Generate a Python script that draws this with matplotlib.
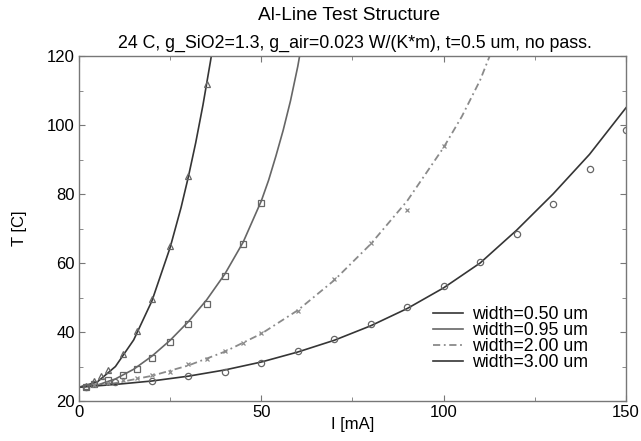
import matplotlib
matplotlib.use("Agg")
import matplotlib.pyplot as plt
from matplotlib.ticker import MultipleLocator

plt.rcParams['font.family'] = ['Liberation Sans', 'DejaVu Sans']

# ---------------- data ----------------
labels = ['width=0.50 um', 'width=0.95 um', 'width=2.00 um', 'width=3.00 um']

# measured points
i_050 = [2, 4, 6, 8, 12, 16, 20, 25, 30, 35]
t_050 = [24.4, 25.9, 27.3, 29.0, 33.6, 40.3, 49.7, 64.9, 85.3, 111.8]

i_095 = [2, 4, 8, 12, 16, 20, 25, 30, 35, 40, 45, 50]
t_095 = [24.0, 25.0, 26.2, 27.6, 29.4, 32.6, 37.1, 42.3, 48.0, 56.2, 65.6, 77.4]

i_200 = [4, 8, 12, 16, 20, 25, 30, 35, 40, 45, 50, 60, 70, 80, 90, 100]
t_200 = [24.6, 25.3, 26.0, 26.6, 27.4, 28.5, 30.7, 32.1, 34.5, 36.8, 39.8, 46.0, 55.4, 65.9, 75.5, 93.8]

i_300 = [2, 10, 20, 30, 40, 50, 60, 70, 80, 90, 100, 110, 120, 130, 140, 150]
t_300 = [24.2, 25.4, 25.9, 27.3, 28.5, 31.0, 34.5, 37.9, 42.3, 47.3, 53.3, 60.3, 68.3, 77.1, 87.2, 98.6]

# model curves
fi_050 = [0, 5, 10, 15, 20, 25, 28, 30, 32, 34, 36, 36.5]
ft_050 = [24.0, 25.5, 30.0, 37.7, 49.0, 64.5, 76.1, 85.0, 94.8, 105.8, 118.1, 121.3]

fi_095 = [0, 5, 10, 15, 20, 25, 30, 35, 40, 45, 50, 52, 54, 56, 58, 60, 61]
ft_095 = [24.0, 24.6, 26.4, 29.2, 33.0, 37.6, 43.0, 49.3, 56.8, 66.0, 78.0, 84.0, 91.0, 98.5, 107.0, 117.0, 123.0]

fi_200 = [0, 10, 20, 30, 40, 50, 60, 70, 80, 90, 100, 105, 110, 113]
ft_200 = [24.0, 25.2, 27.3, 30.3, 34.3, 39.5, 46.3, 55.0, 65.5, 78.0, 93.5, 102.5, 113.0, 121.0]

fi_300 = [0, 10, 20, 30, 40, 50, 60, 70, 80, 90, 100, 110, 120, 130, 140, 150]
ft_300 = [24.0, 24.8, 25.8, 27.2, 29.0, 31.3, 34.2, 37.6, 41.8, 46.8, 52.8, 60.0, 69.5, 80.0, 91.5, 105.0]

# --------------------------------------------------------
fig = plt.figure(figsize=(6.41, 4.41), dpi=100)
ax = fig.add_axes([0.1232, 0.0907, 0.8534, 0.7823])

c_dark = '#353535'
c_mid = '#666666'
c_light = '#8a8a8a'

ax.plot(fi_050, ft_050, color=c_dark, lw=1.2, label=labels[0])
ax.plot(fi_095, ft_095, color=c_mid, lw=1.2, label=labels[1])
ax.plot(fi_200, ft_200, color=c_light, lw=1.3, ls=(0, (4, 2, 1, 2)), label=labels[2])
ax.plot(fi_300, ft_300, color=c_dark, lw=1.2, label=labels[3])

ax.plot(i_050, t_050, ls='none', marker='^', ms=4, mfc='none', mec=c_mid, mew=0.9)
ax.plot(i_095, t_095, ls='none', marker='s', ms=4, mfc='none', mec=c_mid, mew=0.9)
ax.plot(i_200, t_200, ls='none', marker='x', ms=3, mec=c_light, mew=0.9)
ax.plot(i_300, t_300, ls='none', marker='o', ms=4.5, mfc='none', mec=c_mid, mew=0.9)

ax.set_xlim(0, 150)
ax.set_ylim(20, 120)
ax.xaxis.set_major_locator(MultipleLocator(50))
ax.xaxis.set_minor_locator(MultipleLocator(25))
ax.yaxis.set_major_locator(MultipleLocator(20))
ax.yaxis.set_minor_locator(MultipleLocator(10))
ax.tick_params(which='both', direction='in', top=True, right=True,
               color='#777777', labelsize=12, pad=3)
ax.tick_params(which='major', length=4)
ax.tick_params(which='minor', length=3)
for s in ax.spines.values():
    s.set_color('#777777')
    s.set_linewidth(1.0)

ax.set_xlabel('I [mA]', fontsize=12, labelpad=-2)
ax.set_ylabel('T [C]', fontsize=12, labelpad=14)

fig.text(0.545, 0.965, 'Al-Line Test Structure', ha='center', va='center', fontsize=13.8)
fig.text(0.554, 0.902, '24 C, g_SiO2=1.3, g_air=0.023 W/(K*m), t=0.5 um, no pass.',
         ha='center', va='center', fontsize=12.8)

leg = ax.legend(loc='lower right', bbox_to_anchor=(0.953, 0.05), fontsize=12.8,
                frameon=False, labelspacing=-0.05, handlelength=1.7,
                handletextpad=0.5, borderpad=0.2)

fig.savefig('out.png', dpi=100)
